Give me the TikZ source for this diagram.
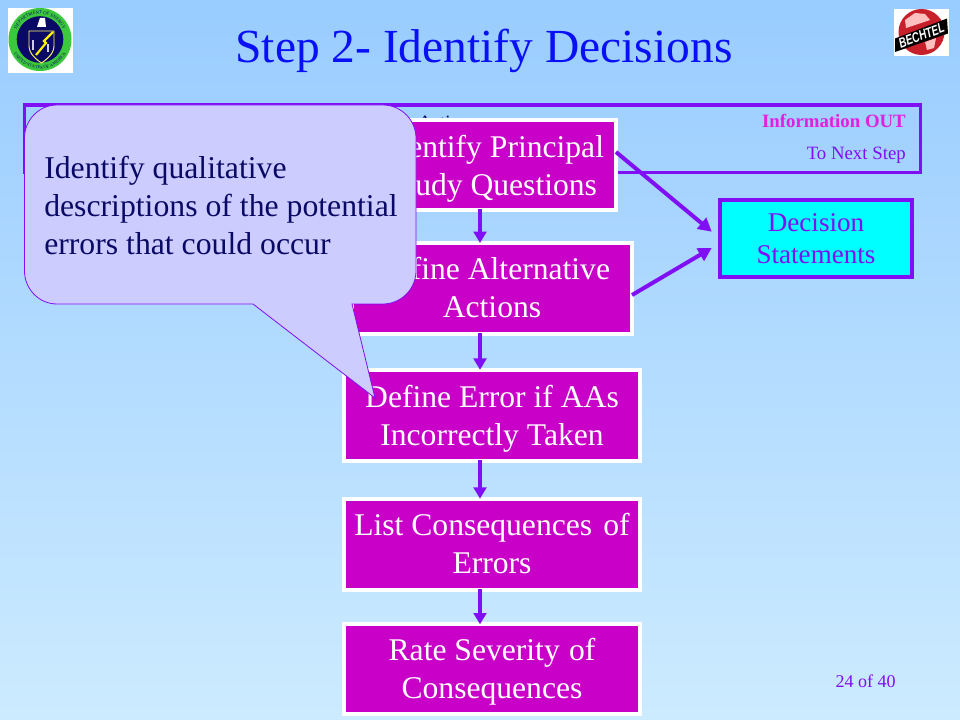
\documentclass[tikz,border=0pt]{standalone}
\usepackage{fontspec}
\setmainfont{Liberation Serif}
\setsansfont{Liberation Sans}
\usetikzlibrary{arrows.meta,decorations.text}
\definecolor{bgtop}{HTML}{99CCFF}
\definecolor{bgbot}{HTML}{CCEBFF}
\definecolor{vio}{HTML}{800FF5}
\definecolor{mag}{HTML}{C800C8}
\definecolor{pinkt}{HTML}{E020E0}
\definecolor{call}{HTML}{CCCCFF}
\definecolor{navy}{HTML}{0A0A66}
\definecolor{ttl}{HTML}{0A10F5}
\definecolor{grn}{HTML}{3CC83C}
\definecolor{aqua}{HTML}{00FFFF}
\definecolor{bred}{HTML}{C8202A}
\newcommand{\shiftlines}[2]{\raisebox{#1}[\height][\depth]{\begin{tabular}{@{}c@{}}#2\end{tabular}}}
\tikzset{
  x=0.75pt,y=-0.75pt,
  stepbox/.style={draw=white,line width=3pt,fill=mag,text=white,align=center,font=\fontsize{23.7}{28.5}\selectfont,inner sep=0pt},
  link/.style={draw=vio,line width=3pt,shorten <=-2pt,shorten >=-1.5pt,-{Triangle[length=8.5pt,width=9.5pt]}},
  slant/.style={draw=vio,line width=3pt,-{Triangle[length=10pt,width=10.5pt]}},
  outbox/.style={draw=vio,line width=3pt,fill=aqua,text=vio,align=center,font=\fontsize{20.3}{24}\selectfont,inner sep=0pt},
}
\begin{document}
\begin{tikzpicture}
\useasboundingbox (0,0) rectangle (960,720);
\shade[top color=bgtop,bottom color=bgbot] (0,0) rectangle (960,720);
% title
\node[text=ttl,font=\fontsize{35.6}{40}\selectfont,anchor=center] (title) at (484,51) {Step 2- Identify Decisions};
% DOE seal
\fill[white] (8,8) rectangle (73,73);
\fill[grn] (40,39.5) circle (31.5);
\fill[navy] (40,39.5) circle (23.3);
\path[decorate,decoration={text along path,text align=center,text={|\fontsize{3.5}{4}\selectfont\color{navy}|DEPARTMENT OF ENERGY}}] (14.5,39.5) arc[start angle=180,end angle=360,radius=25.5];
\path[decorate,decoration={text along path,text align=center,text={|\fontsize{3.4}{4}\selectfont\color{navy}|UNITED STATES OF AMERICA}}] (10.5,39.5) arc[start angle=180,end angle=0,radius=29.5];
\fill[white] (37,27) -- (40,18) -- (45,18) -- (46,27) -- cycle;
\draw[draw=yellow!60!white,line width=0.7pt] (29,31) -- (54,31) -- (54,46) .. controls (54,54) and (46,60) .. (41.5,63) .. controls (37,60) and (29,54) .. (29,46) -- cycle;
\draw[draw=yellow,line width=1.6pt] (53,32) -- (44,41) -- (46,43) -- (36,55);
\fill[white!80!navy] (32,40) rectangle (34,50);
\fill[white!80!navy] (47,44) rectangle (49,52);
% Bechtel logo
\fill[white] (894,9) rectangle (949,56);
\fill[bred] (921.5,32) circle (23);
\fill[red!25!white] (905,20) -- (915,13) -- (925,14) -- (930,20) -- (918,24) -- (906,28) -- cycle;
\fill[red!25!white] (925,42) -- (936,38) -- (934,48) -- (927,50) -- cycle;
\fill[black] (895,38.5) -- (947,18.5) -- (948,33.5) -- (895,52) -- cycle;
\node[text=white,rotate=20,xscale=0.72,transform shape,font=\bfseries\itshape\sffamily\fontsize{10.5}{10.5}\selectfont,inner sep=0pt] (bech) at (921.5,35.5) {BECHTEL};
% information band
\draw[vio,line width=2.6pt] (24.7,105) rectangle (920.3,172.7);
\node[anchor=east,text=pinkt,font=\bfseries\fontsize{14.1}{16}\selectfont,inner sep=0pt] (infoout) at (906,121) {Information OUT};
\node[anchor=east,text=vio,font=\fontsize{14.1}{16}\selectfont,inner sep=0pt] (nextstep) at (906,155) {To Next Step};
\node[text=navy,font=\fontsize{14.1}{16}\selectfont,anchor=base west,inner sep=0pt] (actions) at (418,128.5) {Actions};
% steps
\node[stepbox,minimum width=184.5pt,minimum height=67.5pt] (s1) at (493,165) {\shiftlines{-3pt}{Identify Principal\\Study Questions}};
\node[stepbox,minimum width=210pt,minimum height=68.25pt] (s2) at (492,288.5) {\shiftlines{-1.5pt}{Define Alternative\\Actions}};
\node[stepbox,minimum width=221.5pt,minimum height=68.25pt] (s3) at (492,415.3) {\shiftlines{-3pt}{Define Error if AAs\\Incorrectly Taken}};
\node[stepbox,minimum width=221.5pt,minimum height=68.25pt] (s4) at (492,544.2) {\shiftlines{-1.75pt}{List Consequences\hspace{2.5pt} of\\Errors}};
\node[stepbox,minimum width=221.5pt,minimum height=67pt] (s5) at (492,669) {\shiftlines{-2.25pt}{Rate Severity\hspace{1pt} of\\Consequences}};
\node[outbox,minimum width=144pt,minimum height=57.75pt] (d) at (816,238.5) {Decision\\Statements};
% connectors
\coordinate (ax) at (480,0);
\coordinate (b1s) at ([xshift=-1.5pt,yshift=9.75pt]s1.east);
\coordinate (b1e) at ([xshift=-4.7pt,yshift=5.1pt]d.west);
\coordinate (b2s) at ([xshift=-1.5pt,yshift=-4.9pt]s2.east);
\coordinate (b2e) at ([xshift=-4.7pt,yshift=-7.1pt]d.west);
\draw[link] (s1.south -| ax) -- (s2.north -| ax);
\draw[link] (s2.south -| ax) -- (s3.north -| ax);
\draw[link] (s3.south -| ax) -- (s4.north -| ax);
\draw[link] (s4.south -| ax) -- (s5.north -| ax);
\draw[slant] (b1s) -- (b1e);
\draw[slant] (b2s) -- (b2e);
% callout
\draw[fill=call,draw=vio,line width=0.6pt] (57,105) -- (383,105)
  .. controls (401,105) and (416,120) .. (416,138) -- (416,271)
  .. controls (416,289) and (401,304) .. (383,304) -- (352,304)
  -- (375,398) -- (253,304) -- (57,304)
  .. controls (39,304) and (24.5,289) .. (24.5,271) -- (24.5,138)
  .. controls (24.5,120) and (39,105) .. (57,105) -- cycle;
\node[anchor=north west,text=navy,align=left,font=\fontsize{23.8}{28.5}\selectfont,inner sep=0pt] (ctext) at (44,156) {Identify qualitative\\descriptions of the potential\\errors that could occur};
\node[anchor=center,text=vio,font=\fontsize{13.5}{15}\selectfont,inner sep=0pt] (page) at (865.5,681) {24 of 40};
\end{tikzpicture}
\end{document}
